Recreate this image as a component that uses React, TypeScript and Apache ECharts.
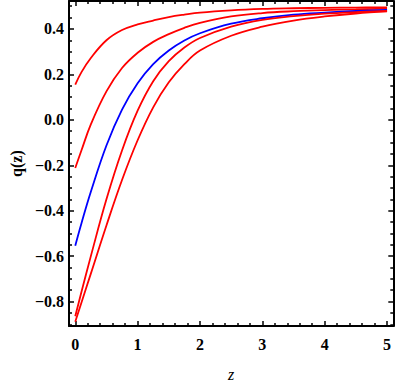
import React, { useEffect, useRef } from "react";
import * as echarts from "echarts";

const zValues = [0, 0.1, 0.25, 0.5, 0.75, 1, 1.25, 1.5, 1.75, 2, 2.5, 3, 3.5, 4, 4.5, 5];
const red1 = [0.155, 0.21, 0.272, 0.35, 0.395, 0.42, 0.437, 0.452, 0.463, 0.472, 0.482, 0.488, 0.491, 0.493, 0.494, 0.495];
const red2 = [-0.212, -0.134, -0.02, 0.125, 0.228, 0.295, 0.343, 0.377, 0.405, 0.427, 0.455, 0.47, 0.478, 0.483, 0.486, 0.489];
const blue = [-0.554, -0.455, -0.317, -0.113, 0.045, 0.161, 0.245, 0.305, 0.349, 0.381, 0.423, 0.447, 0.463, 0.472, 0.479, 0.484];
const red3 = [-0.865, -0.757, -0.6, -0.35, -0.135, 0.04, 0.17, 0.258, 0.318, 0.36, 0.41, 0.44, 0.456, 0.467, 0.474, 0.479];
const red4 = [-0.889, -0.804, -0.677, -0.465, -0.265, -0.09, 0.055, 0.165, 0.245, 0.305, 0.37, 0.41, 0.437, 0.455, 0.468, 0.477];

const xMajor = [0, 1, 2, 3, 4, 5];
const xMinor = [0.2, 0.4, 0.6, 0.8, 1.2, 1.4, 1.6, 1.8, 2.2, 2.4, 2.6, 2.8, 3.2, 3.4, 3.6, 3.8, 4.2, 4.4, 4.6, 4.8];
const yMajor = [-0.8, -0.6, -0.4, -0.2, 0, 0.2, 0.4];
const yMinor = [-0.9, -0.85, -0.75, -0.7, -0.65, -0.55, -0.5, -0.45, -0.35, -0.3, -0.25, -0.15, -0.1, -0.05, 0.05, 0.1, 0.15, 0.25, 0.3, 0.35, 0.45, 0.5];

const xRange = [-0.1, 5.1];
const yRange = [-0.9075, 0.5225];

const serif = "Liberation Serif";

function pairs(ys: number[]) {
  return zValues.map((z, i) => [z, ys[i]]);
}

export default function App() {
  const ref = useRef<HTMLDivElement>(null);
  useEffect(() => {
    if (!ref.current) return;
    const chart = echarts.init(ref.current, null, { renderer: "svg" });
    const line = { show: true, onZero: false, lineStyle: { color: "#000", width: 2 } };
    const noLine = { show: false, onZero: false };
    const mkX = (pos: string, ticks: number[], len: number, labels: boolean, withLine: boolean, extra: any = {}) => ({
      type: "value",
      position: pos,
      min: xRange[0],
      max: xRange[1],
      axisLine: withLine ? line : noLine,
      splitLine: { show: false },
      axisTick: { show: true, inside: true, length: len, customValues: ticks, lineStyle: { color: "#000", width: 1.5 } },
      axisLabel: labels
        ? { show: true, customValues: ticks, margin: 10, color: "#000", fontFamily: serif, fontWeight: "bold", fontSize: 16, formatter: (v: number) => String(Math.round(v)) }
        : { show: false },
      ...extra,
    });
    const fmtY = (v: number) => (v < -1e-9 ? "\u2212" : "") + Math.abs(v).toFixed(1);
    const mkY = (pos: string, ticks: number[], len: number, labels: boolean, withLine: boolean, extra: any = {}) => ({
      type: "value",
      position: pos,
      min: yRange[0],
      max: yRange[1],
      axisLine: withLine ? line : noLine,
      splitLine: { show: false },
      axisTick: { show: true, inside: true, length: len, customValues: ticks, lineStyle: { color: "#000", width: 1.5 } },
      axisLabel: labels
        ? { show: true, customValues: ticks, margin: 5, color: "#000", fontFamily: serif, fontWeight: "bold", fontSize: 16, formatter: fmtY }
        : { show: false },
      ...extra,
    });
    const mkSeries = (data: number[], color: string) => ({
      type: "line",
      data: pairs(data),
      xAxisIndex: 0,
      yAxisIndex: 0,
      smooth: 0.4,
      showSymbol: false,
      symbol: "none",
      clip: true,
      lineStyle: { color, width: 1.8 },
    });
    chart.setOption({
      animation: false,
      backgroundColor: "#fff",
      grid: { left: 66.4, right: 1.7, top: 1.1, bottom: 60.5, containLabel: false },
      xAxis: [
        mkX("bottom", xMajor, 5, true, true, {
          name: "z",
          nameLocation: "middle",
          nameGap: 40,
          nameTextStyle: { fontFamily: serif, fontStyle: "italic", fontSize: 16, color: "#000" },
        }),
        mkX("bottom", xMinor, 3, false, false),
        mkX("top", xMajor, 5, false, true),
        mkX("top", xMinor, 3, false, false),
      ],
      yAxis: [
        mkY("left", yMajor, 5, true, true, {
          name: "q(z)",
          nameLocation: "middle",
          nameGap: 42,
          nameRotate: 90,
          nameTextStyle: { fontFamily: serif, fontWeight: "bold", fontSize: 16, color: "#000" },
        }),
        mkY("left", yMinor, 3, false, false),
        mkY("right", yMajor, 5, false, true),
        mkY("right", yMinor, 3, false, false),
      ],
      series: [
        mkSeries(red1, "#ff0000"),
        mkSeries(red2, "#ff0000"),
        mkSeries(blue, "#0000ff"),
        mkSeries(red3, "#ff0000"),
        mkSeries(red4, "#ff0000"),
      ],
    });
    return () => chart.dispose();
  }, []);
  return (
    <div
      ref={ref}
      style={{ position: "fixed", left: 0, top: 0, width: 395, height: 387, background: "#fff" }}
    />
  );
}
